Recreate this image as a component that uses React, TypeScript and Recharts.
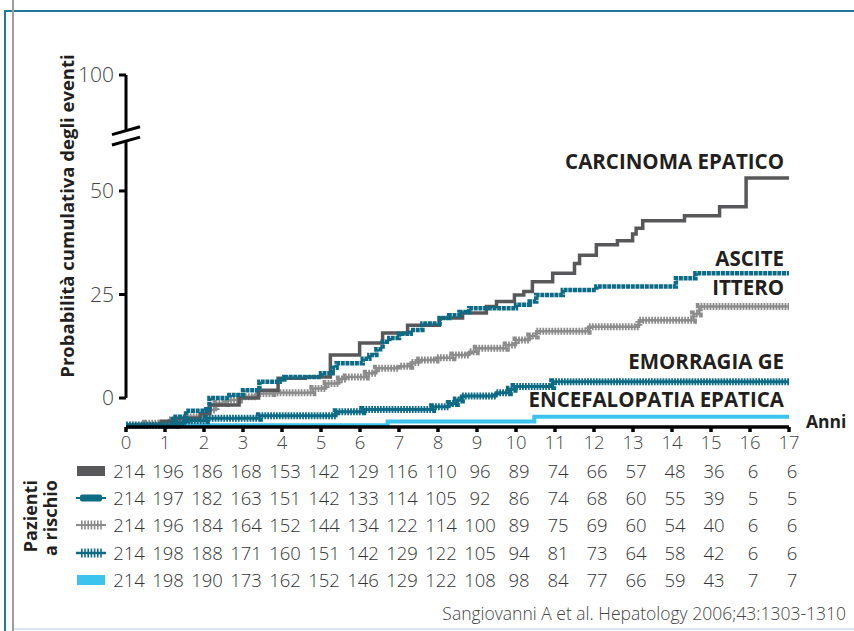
import React from 'react';
import { ComposedChart, Line, XAxis, YAxis, ReferenceLine } from 'recharts';

// anni di follow-up
const anni = [0, 1, 2, 3, 4, 5, 6, 7, 8, 9, 10, 11, 12, 13, 14, 15, 16, 17];
// la tacca "100" sta sopra l'interruzione dell'asse
const yTicks = [0, 25, 50, 78];
const yTickLabels: Record<number, string> = { 0: '0', 25: '25', 50: '50', 78: '100' };

// curve cumulative [anno, valore]
const carcinoma = [
  [0, -6.6], [0.9, -5.6], [1.3, -4.9], [1.9, -3.8], [2.15, -1.7], [2.9, 0], [3.4, 1.9], [3.9, 4.8],
  [4.6, 5.1], [5.24, 10.4], [5.99, 13.3], [6.58, 15.7], [7.22, 17.6], [8.04, 19.3], [8.63, 20.5],
  [9.24, 22.1], [9.5, 23.3], [9.96, 24.9], [10.2, 25.7], [10.42, 28.1], [10.94, 30.1], [11.5, 32.5],
  [11.63, 34.5], [12.06, 37.0], [12.6, 38.0], [12.99, 39.6], [13.08, 41.0], [13.25, 42.8],
  [14.32, 44.0], [15.22, 46.2], [15.9, 53.1], [17, 53.1],
];
const ascite = [
  [0, -6.7], [1.2, -4.5], [1.54, -3.1], [2.06, -2.7], [2.14, 0], [2.65, 0.7], [3.0, 1.9], [3.42, 3.9],
  [3.94, 4.5], [4.06, 5.1], [5.0, 6.0], [5.3, 7.3], [5.4, 8.4], [6.07, 9.5], [6.24, 10.4], [6.42, 11.8],
  [6.58, 13.6], [6.75, 14.5], [7.0, 15.5], [7.3, 16.4], [7.6, 18.0], [8.04, 19.3], [8.29, 20.0],
  [8.55, 20.8], [8.8, 21.7], [10.0, 22.5], [10.35, 23.3], [10.52, 24.9], [11.2, 26.1], [12.06, 26.9],
  [14.1, 28.9], [14.6, 30.1], [17, 30.1],
];
const ittero = [
  [0, -6.5], [0.5, -6.1], [1.1, -5.3], [1.6, -4.5], [2.06, -2.9], [2.31, -1.3], [2.57, -0.5],
  [2.91, 0.3], [3.34, 1.1], [3.76, 1.3], [4.79, 2.3], [5.13, 3.5], [5.47, 4.6], [5.65, 5.1],
  [6.16, 6.0], [6.42, 7.2], [7.0, 7.7], [7.3, 8.6], [7.53, 9.2], [7.95, 9.7], [8.38, 10.4],
  [8.8, 11.2], [8.98, 12.0], [9.75, 12.8], [10.0, 14.0], [10.35, 15.0], [10.52, 16.1],
  [11.85, 17.2], [13.15, 18.8], [14.55, 20.3], [14.7, 22.1], [17, 22.1],
];
const emorragia = [
  [0, -6.6], [1.29, -6.1], [1.5, -5.5], [2.06, -4.9], [3.42, -4.3], [5.39, -3.3], [6.07, -2.8],
  [7.86, -2.1], [8.29, -1.3], [8.47, -0.5], [8.6, 0.5], [9.49, 1.3], [9.83, 2.1], [9.95, 2.8],
  [10.94, 3.9], [17, 3.9],
];
const encefalopatia = [[0, -6.6], [6.71, -5.7], [10.47, -4.5], [17, -4.5]];

// pazienti a rischio
const rischioCarcinoma = [214, 196, 186, 168, 153, 142, 129, 116, 110, 96, 89, 74, 66, 57, 48, 36, 6, 6];
const rischioAscite = [214, 197, 182, 163, 151, 142, 133, 114, 105, 92, 86, 74, 68, 60, 55, 39, 5, 5];
const rischioIttero = [214, 196, 184, 164, 152, 144, 134, 122, 114, 100, 89, 75, 69, 60, 54, 40, 6, 6];
const rischioEmorragia = [214, 198, 188, 171, 160, 151, 142, 129, 122, 105, 94, 81, 73, 64, 58, 42, 6, 6];
const rischioEncefalopatia = [214, 198, 190, 173, 162, 152, 146, 129, 122, 108, 98, 84, 77, 66, 59, 43, 7, 7];

const GRAY_DARK = '#58585a';
const TEAL = '#0d6b86';
const GRAY_LIGHT = '#8c8c8c';
const BLUE_LIGHT = '#3cc3ee';

const toRows = (pts: number[][]) => pts.map(([x, y]) => ({ x, y }));

const FONT = '"Open Sans", "Noto Sans", sans-serif';

const labelStyle: React.CSSProperties = {
  position: 'absolute',
  right: 854 - 784,
  fontFamily: FONT,
  fontWeight: 700,
  fontSize: 20.5,
  color: '#231f20',
  whiteSpace: 'nowrap',
  lineHeight: '22px',
};

const Swatch = ({ kind }: { kind: string }) => (
  <svg width={30} height={12} style={{ display: 'block' }}>
    {kind === 'carcinoma' && <rect x={1} y={1} width={28} height={10} fill={GRAY_DARK} />}
    {kind === 'ascite' && (
      <>
        <line x1={0} y1={6} x2={30} y2={6} stroke={TEAL} strokeWidth={2} />
        <rect x={4} y={2.5} width={22} height={7} rx={2} fill={TEAL} />
      </>
    )}
    {kind === 'ittero' && (
      <>
        <line x1={0} y1={6} x2={30} y2={6} stroke={GRAY_LIGHT} strokeWidth={2} />
        <line x1={5} y1={6} x2={26} y2={6} stroke={GRAY_LIGHT} strokeWidth={9} strokeDasharray="1.6 1.6" />
      </>
    )}
    {kind === 'emorragia' && (
      <>
        <line x1={0} y1={6} x2={30} y2={6} stroke={TEAL} strokeWidth={2.5} />
        <line x1={5} y1={6} x2={26} y2={6} stroke={TEAL} strokeWidth={9} strokeDasharray="1.6 1.6" />
      </>
    )}
    {kind === 'encefalopatia' && <rect x={1} y={1} width={28} height={10} fill={BLUE_LIGHT} />}
  </svg>
);

const rischioRows = [
  { kind: 'carcinoma', values: rischioCarcinoma },
  { kind: 'ascite', values: rischioAscite },
  { kind: 'ittero', values: rischioIttero },
  { kind: 'emorragia', values: rischioEmorragia },
  { kind: 'encefalopatia', values: rischioEncefalopatia },
];

const X0 = 126;
const STEP = 39;

export default function App() {
  return (
    <div style={{ position: 'absolute', left: 0, top: 0, width: 854, height: 631, background: '#fff', overflow: 'hidden' }}>
      {/* cornice */}
      <div style={{ position: 'absolute', left: 4, top: 10, width: 850, height: 2, background: '#1f7b9b' }} />
      <div style={{ position: 'absolute', left: 4, top: 10, width: 2, height: 621, background: '#1f7b9b' }} />
      <div style={{ position: 'absolute', left: 12, top: 0, width: 2, height: 631, background: '#9d9d9d' }} />
      <div style={{ position: 'absolute', left: 14, top: 628, width: 840, height: 2, background: '#d3e6ec' }} />

      <div style={{ position: 'absolute', left: 0, top: 0 }}>
        <ComposedChart width={854} height={631} margin={{ top: 75, right: 65, bottom: 174, left: 66 }}>
          <XAxis
            type="number"
            dataKey="x"
            domain={[0, 17]}
            ticks={anni}
            interval={0}
            height={30}
            axisLine={{ stroke: '#000', strokeWidth: 3.5 }}
            tickLine={{ stroke: '#000', strokeWidth: 3.5 }}
            tickSize={5}
            tickMargin={4}
            tick={{ fill: '#444', fontSize: 18.5, fontWeight: 300, fontFamily: FONT }}
          />
          <YAxis
            type="number"
            domain={[-7, 78]}
            ticks={yTicks}
            interval={0}
            width={60}
            axisLine={false}
            tickLine={{ stroke: '#000', strokeWidth: 3 }}
            tickSize={7}
            tickMargin={5}
            tickFormatter={(v: number) => yTickLabels[v] ?? ''}
            tick={{ fill: '#444', fontSize: 21, fontWeight: 300, fontFamily: FONT }}
          />
          {/* asse Y con interruzione */}
          <ReferenceLine segment={[{ x: 0, y: 0 }, { x: 0, y: 62.2 }]} stroke="#000" strokeWidth={3} ifOverflow="visible" />
          <ReferenceLine segment={[{ x: 0, y: 64.4 }, { x: 0, y: 78 }]} stroke="#000" strokeWidth={3} ifOverflow="visible" />
          <ReferenceLine segment={[{ x: -0.36, y: 61.1 }, { x: 0.36, y: 63.0 }]} stroke="#000" strokeWidth={3} ifOverflow="visible" />
          <ReferenceLine segment={[{ x: -0.36, y: 63.6 }, { x: 0.36, y: 65.5 }]} stroke="#000" strokeWidth={3} ifOverflow="visible" />

          <Line data={toRows(encefalopatia)} dataKey="y" type="stepAfter" stroke={BLUE_LIGHT} strokeWidth={4} dot={false} activeDot={false} isAnimationActive={false} />
          <Line data={toRows(ittero)} dataKey="y" type="stepAfter" stroke={GRAY_LIGHT} strokeWidth={2.5} dot={false} activeDot={false} isAnimationActive={false} />
          <Line data={toRows(ittero)} dataKey="y" type="stepAfter" stroke={GRAY_LIGHT} strokeWidth={7} strokeDasharray="1.8 1.2" dot={false} activeDot={false} isAnimationActive={false} />
          <Line data={toRows(carcinoma)} dataKey="y" type="stepAfter" stroke={GRAY_DARK} strokeWidth={3.5} dot={false} activeDot={false} isAnimationActive={false} />
          <Line data={toRows(emorragia)} dataKey="y" type="stepAfter" stroke={TEAL} strokeWidth={3} dot={false} activeDot={false} isAnimationActive={false} />
          <Line data={toRows(emorragia)} dataKey="y" type="stepAfter" stroke={TEAL} strokeWidth={7} strokeDasharray="1.8 1.1" dot={false} activeDot={false} isAnimationActive={false} />
          <Line data={toRows(ascite)} dataKey="y" type="stepAfter" stroke={TEAL} strokeWidth={4.5} strokeDasharray="4 0.7" dot={false} activeDot={false} isAnimationActive={false} />
        </ComposedChart>
      </div>

      {/* etichette delle curve */}
      <div style={{ ...labelStyle, top: 150 }}>CARCINOMA EPATICO</div>
      <div style={{ ...labelStyle, top: 247 }}>ASCITE</div>
      <div style={{ ...labelStyle, top: 276 }}>ITTERO</div>
      <div style={{ ...labelStyle, top: 350 }}>EMORRAGIA GE</div>
      <div style={{ ...labelStyle, top: 388 }}>ENCEFALOPATIA EPATICA</div>
      <div style={{ ...labelStyle, right: undefined, left: 806, top: 410, fontSize: 17.5 }}>Anni</div>

      {/* titolo asse Y */}
      <div
        style={{
          position: 'absolute', left: 66, top: 216, transform: 'translate(-50%, -50%) rotate(-90deg)',
          fontFamily: FONT, fontWeight: 700, fontSize: 18.5, color: '#231f20', whiteSpace: 'nowrap',
        }}
      >
        Probabilità cumulativa degli eventi
      </div>

      {/* pazienti a rischio */}
      <div
        style={{
          position: 'absolute', left: 40, top: 518, transform: 'translate(-50%, -50%) rotate(-90deg)',
          fontFamily: FONT, fontWeight: 700, fontSize: 18, lineHeight: '20px', color: '#231f20',
          whiteSpace: 'nowrap', textAlign: 'right',
        }}
      >
        Pazienti<br />a rischio
      </div>
      {rischioRows.map((row, r) => (
        <React.Fragment key={row.kind}>
          <div style={{ position: 'absolute', left: 76, top: 465 + r * 27.2 }}>
            <Swatch kind={row.kind} />
          </div>
          {row.values.map((v, i) => (
            <div
              key={i}
              style={{
                position: 'absolute', left: X0 + i * STEP + 3 - 20, top: 459 + r * 27.2, width: 40,
                textAlign: 'center', fontFamily: FONT, fontWeight: 300, fontSize: 18.5, color: '#333',
                lineHeight: '24px',
              }}
            >
              {v}
            </div>
          ))}
        </React.Fragment>
      ))}

      <div
        style={{
          position: 'absolute', right: 8, top: 601, fontFamily: FONT, fontWeight: 300, fontSize: 17.5,
          color: '#444', whiteSpace: 'nowrap',
        }}
      >
        Sangiovanni A et al. Hepatology 2006;43:1303-1310
      </div>
    </div>
  );
}
